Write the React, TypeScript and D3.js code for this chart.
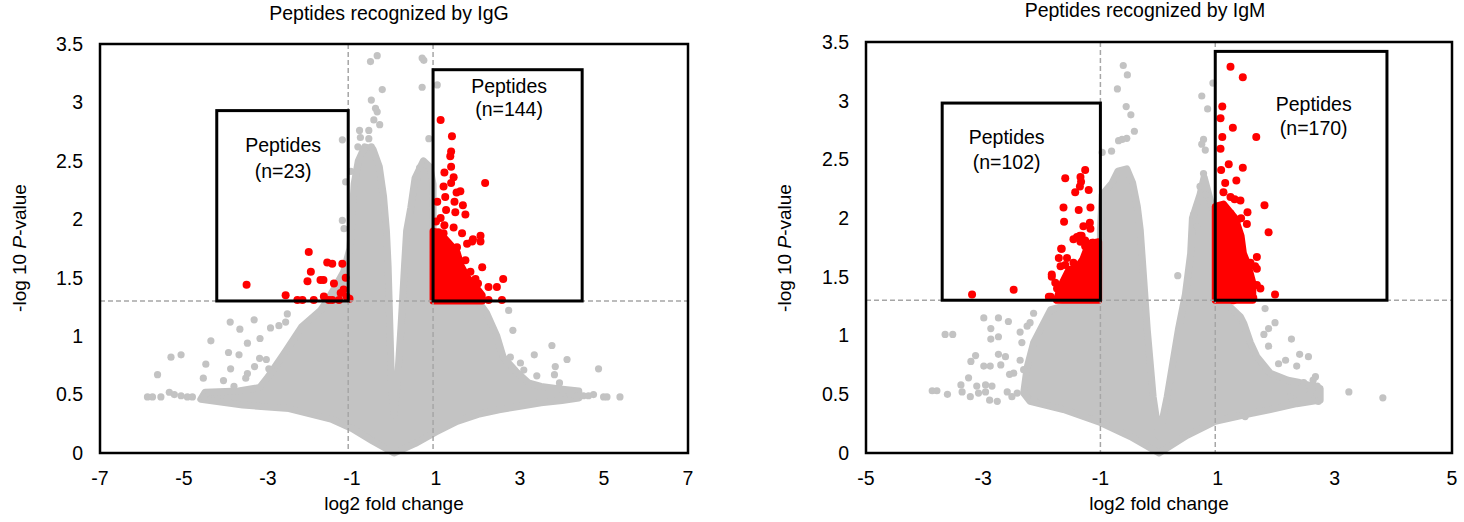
import React from "react";
import * as d3 from "d3";

// ---------- shared ticks ----------
const Y_TICKS = [0, 0.5, 1, 1.5, 2, 2.5, 3, 3.5];
const IGG_X_TICKS = [-7, -5, -3, -1, 1, 3, 5, 7];
const IGM_X_TICKS = [-5, -3, -1, 1, 3, 5];

// ---------- IgG panel data ----------
const IGG_TITLE = "Peptides recognized by IgG";
const IGG_LEFT_LABEL = ["Peptides", "(n=23)"];
const IGG_RIGHT_LABEL = ["Peptides", "(n=144)"];
const IGG_THRESH = { lo: -1.09, hi: 0.93, p: 1.301 };
const IGG_BOX_LEFT = { x0: -4.22, x1: -1.09, top: 2.93 };
const IGG_BOX_RIGHT = { x0: 0.93, x1: 4.48, top: 3.28 };
const IGG_LABEL_POS = { left: [-2.64, 2.63, 2.41], right: [2.74, 3.14, 2.94] };

// dense grey cloud outline (log2FC, -log10 p)
const IGG_CLOUD: [number, number][] = [
  [0, 0], [0.5, 0.08], [1.0, 0.18], [1.5, 0.27], [2.0, 0.33], [2.5, 0.37], [3.0, 0.4], [3.5, 0.43], [4.0, 0.45], [4.4, 0.47],
  [4.4, 0.53], [3.9, 0.55], [3.5, 0.57], [3.2, 0.6], [2.9, 0.7], [2.6, 0.82], [2.45, 1.0], [2.2, 1.2], [2.0, 1.3],
  [0.93, 1.3], [0.93, 2.3], [0.85, 2.45], [0.7, 2.5], [0.5, 2.35], [0.4, 2.1], [0.3, 1.9], [0.25, 1.6], [0.17, 1.1], [0.08, 0.6], [0.0, 0.32],
  [-0.06, 0.6], [-0.1, 1.1], [-0.14, 1.6], [-0.18, 1.9], [-0.25, 2.2], [-0.35, 2.45], [-0.5, 2.6], [-0.7, 2.62], [-0.85, 2.5], [-0.95, 2.3],
  [-1.0, 2.0], [-1.05, 1.75], [-1.2, 1.55], [-1.4, 1.42], [-1.6, 1.3], [-1.75, 1.22], [-2.2, 1.08], [-2.6, 0.86], [-3.0, 0.65], [-3.2, 0.56],
  [-3.7, 0.53], [-4.5, 0.52], [-4.6, 0.46], [-3.6, 0.41], [-2.5, 0.38], [-1.5, 0.29], [-1.0, 0.21], [-0.5, 0.1],
];
const IGG_GREY: [number, number][] = [
  [-5.87, 0.48], [-5.75, 0.48], [-5.55, 0.48], [-5.35, 0.52], [-5.23, 0.5], [-5.07, 0.49], [-4.92, 0.48], [-4.8, 0.48], [-4.52, 0.48],
  [-5.63, 0.67], [-5.31, 0.82], [-5.07, 0.84], [-4.36, 0.96], [-4.48, 0.76], [-4.54, 0.64], [-4.06, 0.62], [-3.89, 0.72], [-3.94, 0.86],
  [-3.69, 0.84], [-3.67, 1.06], [-3.9, 1.12], [-3.33, 1.14], [-3.49, 0.94], [-3.19, 0.98], [-3.2, 0.81], [-3.04, 0.8], [-2.94, 1.07],
  [-2.74, 1.09], [-2.54, 1.19], [-2.58, 1.12], [-3.32, 0.74], [-3.49, 0.68], [-3.53, 0.64], [-3.81, 0.57], [-2.98, 0.72], [-2.78, 0.75],
  [-0.4, 3.4], [-0.56, 3.35], [-0.28, 3.11], [-0.54, 3.02], [-0.44, 2.95], [-0.4, 2.92], [-0.48, 2.85], [-0.34, 2.81], [-0.82, 2.76],
  [-0.6, 2.76], [-0.8, 2.7], [-0.6, 2.69], [-0.86, 2.62], [-0.72, 2.59], [-0.54, 2.62], [-1.23, 2.68], [-1.15, 2.32], [-1.03, 2.41],
  [-1.23, 1.99], [-1.19, 1.92], [0.71, 3.36], [0.67, 3.38], [1.03, 3.15], [0.67, 3.13], [0.83, 2.69], [0.61, 2.44], [0.55, 2.36],
  [0.59, 2.31], [0.79, 2.46],
  [3.76, 0.92], [3.34, 0.84], [4.12, 0.8], [4.87, 0.72], [3.84, 0.74], [3.82, 0.67], [3.94, 0.6], [3.4, 0.66], [2.77, 0.82], [3.01, 0.77],
  [3.09, 0.71], [2.83, 1.05], [2.73, 1.22], [4.99, 0.48], [5.07, 0.48], [5.38, 0.48], [4.51, 0.49], [4.63, 0.49], [4.35, 0.49], [4.75, 0.5],
  [4.2, 0.5],
];
const IGG_RED_BLOB: [number, number][] = [
  [0.93, 1.3], [0.93, 1.9], [1.1, 1.88], [1.3, 1.8], [1.5, 1.72], [1.6, 1.6], [1.75, 1.5], [1.95, 1.42], [2.1, 1.35], [2.1, 1.3],
];
const IGG_RED_DOWN: [number, number][] = [
  [-3.51, 1.44], [-2.58, 1.35], [-2.3, 1.31], [-2.18, 1.31], [-1.91, 1.31], [-2.03, 1.72], [-1.98, 1.55], [-2.06, 1.47], [-1.75, 1.48],
  [-1.68, 1.48], [-1.67, 1.34], [-1.59, 1.63], [-1.47, 1.62], [-1.23, 1.62], [-1.43, 1.45], [-1.27, 1.37], [-1.47, 1.31], [-1.31, 1.31],
  [-1.13, 1.34], [-1.06, 1.32], [-1.55, 1.31], [-1.2, 1.4], [-1.15, 1.5],
];
const IGG_RED_UP: [number, number][] = [
  [1.11, 2.85], [1.38, 2.71], [1.36, 2.58], [1.34, 2.54], [1.36, 2.45], [1.2, 2.4], [1.42, 2.36], [1.36, 2.31], [1.18, 2.28], [2.17, 2.31],
  [1.49, 2.23], [1.58, 2.24], [1.22, 2.19], [1.03, 2.15], [1.64, 2.12], [1.44, 2.15], [1.24, 2.08], [1.46, 2.06], [1.7, 2.04], [1.11, 2.01],
  [1.2, 1.95], [1.42, 1.93], [1.62, 1.88], [1.06, 1.89], [2.06, 1.86], [1.88, 1.83], [2.06, 1.81], [1.86, 1.81], [1.74, 1.79], [1.5, 1.76],
  [1.18, 1.88], [1.82, 1.55], [2.1, 1.59], [1.94, 1.49], [2.6, 1.49], [2.25, 1.42], [2.45, 1.42], [2.25, 1.31], [2.57, 1.31], [2.06, 1.35],
  [1.82, 1.32], [1.0, 1.98], [0.98, 1.75], [1.7, 1.65], [2.0, 1.45],
];

// ---------- IgM panel data ----------
const IGM_TITLE = "Peptides recognized by IgM";
const IGM_LEFT_LABEL = ["Peptides", "(n=102)"];
const IGM_RIGHT_LABEL = ["Peptides", "(n=170)"];
const IGM_THRESH = { lo: -1.0, hi: 0.96, p: 1.301 };
const IGM_BOX_LEFT = { x0: -3.7, x1: -1.0, top: 2.98 };
const IGM_BOX_RIGHT = { x0: 0.96, x1: 3.89, top: 3.42 };
const IGM_LABEL_POS = { left: [-2.6, 2.69, 2.48], right: [2.64, 2.97, 2.77] };

const IGM_CLOUD: [number, number][] = [
  [0, 0], [0.48, 0.15], [0.96, 0.27], [1.5, 0.33], [1.9, 0.37], [2.35, 0.42], [2.75, 0.45],
  [2.75, 0.55], [2.4, 0.6], [2.2, 0.62], [1.9, 0.68], [1.67, 0.82], [1.56, 0.94], [1.45, 1.1], [1.39, 1.16], [1.2, 1.25], [1.0, 1.3],
  [0.96, 1.3], [0.96, 2.0], [0.85, 2.2], [0.77, 2.35], [0.7, 2.2], [0.57, 2.0], [0.54, 1.7], [0.45, 1.35], [0.33, 1.05], [0.14, 0.48], [0.0, 0.14],
  [-0.1, 0.48], [-0.2, 1.05], [-0.32, 1.9], [-0.37, 2.1], [-0.45, 2.3], [-0.55, 2.42], [-0.7, 2.4], [-0.8, 2.3], [-0.97, 2.2], [-1.0, 1.9],
  [-1.0, 1.3], [-1.4, 1.28], [-1.85, 1.22], [-2.14, 0.94], [-2.25, 0.73], [-2.31, 0.51], [-2.2, 0.44], [-1.63, 0.37], [-1.0, 0.26], [-0.49, 0.14],
];
const IGM_GREY: [number, number][] = [
  [-3.87, 0.53], [-3.79, 0.53], [-3.61, 0.5], [-3.65, 1.01], [-3.52, 1.01], [-3.25, 0.64], [-3.21, 0.78], [-3.13, 0.83], [-3.38, 0.58],
  [-3.36, 0.52], [-3.22, 0.48], [-3.11, 0.57], [-3.08, 0.51], [-2.99, 0.74], [-2.88, 0.74], [-2.99, 1.15], [-2.87, 1.06], [-2.74, 1.15],
  [-2.57, 1.12], [-2.87, 0.97], [-2.74, 0.99], [-2.96, 0.58], [-2.85, 0.57], [-2.96, 0.52], [-2.89, 0.45], [-2.76, 0.44], [-2.37, 1.03],
  [-2.34, 0.94], [-2.25, 1.08], [-2.14, 1.19], [-2.2, 1.11], [-2.74, 0.84], [-2.62, 0.82], [-2.7, 0.75], [-2.48, 0.68], [-2.55, 0.67],
  [-2.37, 0.79], [-2.31, 0.71], [-2.14, 0.45], [-1.97, 0.43], [-2.59, 0.52], [-2.51, 0.48], [-2.42, 0.51],
  [1.81, 1.23], [1.98, 1.11], [1.87, 1.06], [1.79, 1.01], [2.26, 0.97], [1.87, 0.91], [2.4, 0.84], [2.55, 0.82], [2.16, 0.79], [2.35, 0.74],
  [2.04, 0.76], [2.67, 0.65], [2.63, 0.62], [2.7, 0.57], [2.47, 0.6], [2.72, 0.44], [2.35, 0.44], [2.24, 0.48], [3.24, 0.52], [3.82, 0.47],
  [1.47, 0.31], [2.58, 0.5], [2.61, 0.54], [0.32, 1.51],
  [-0.61, 3.3], [-0.54, 3.22], [-0.71, 3.1], [-0.56, 2.95], [-0.48, 2.88], [-0.42, 2.74], [-0.55, 2.68], [-0.69, 2.66], [-0.63, 2.67],
  [-0.81, 2.57], [-0.97, 2.56], [0.92, 3.15], [0.73, 3.04], [0.83, 2.93], [0.76, 2.67], [0.73, 2.63], [0.79, 2.58], [0.76, 2.38],
  [0.7, 2.27], [0.79, 2.2], [0.59, 2.03], [0.65, 1.93],
];
const IGM_RED_BLOB_DOWN: [number, number][] = [
  [-1.03, 1.3], [-1.03, 1.8], [-1.2, 1.78], [-1.3, 1.65], [-1.4, 1.58], [-1.55, 1.55], [-1.65, 1.45], [-1.72, 1.35], [-1.75, 1.3],
];
const IGM_RED_BLOB_UP: [number, number][] = [
  [0.96, 1.3], [0.96, 2.1], [1.1, 2.12], [1.3, 2.0], [1.4, 1.85], [1.44, 1.7], [1.52, 1.6], [1.6, 1.45], [1.6, 1.3],
];
const IGM_RED_DOWN: [number, number][] = [
  [-1.26, 2.41], [-1.6, 2.34], [-1.34, 2.35], [-1.33, 2.31], [-1.35, 2.27], [-1.2, 2.24], [-1.43, 2.22], [-1.63, 2.09], [-1.37, 2.07],
  [-1.17, 2.09], [-1.62, 1.97], [-1.18, 1.96], [-1.29, 1.93], [-1.17, 1.91], [-1.4, 1.84], [-1.46, 1.82], [-1.32, 1.85], [-1.34, 1.8],
  [-1.26, 1.76], [-1.2, 1.76], [-1.67, 1.74], [-1.14, 1.79], [-1.66, 1.74], [-1.71, 1.66], [-1.57, 1.66], [-1.46, 1.62], [-1.68, 1.59],
  [-1.83, 1.5], [-1.77, 1.45], [-1.74, 1.4], [-1.85, 1.33], [-1.57, 1.45], [-1.51, 1.46], [-1.43, 1.42], [-1.34, 1.33], [-1.57, 1.33],
  [-3.19, 1.35], [-2.48, 1.39], [-1.88, 1.33], [-1.83, 1.52], [-1.6, 1.6], [-1.51, 1.56], [-1.12, 1.79], [-1.26, 1.81], [-1.35, 1.85],
];
const IGM_RED_UP: [number, number][] = [
  [1.22, 3.29], [1.43, 3.2], [1.08, 2.95], [1.05, 2.85], [1.26, 2.77], [1.66, 2.69], [1.08, 2.69], [1.05, 2.59], [1.19, 2.46], [1.43, 2.43],
  [1.06, 2.41], [1.32, 2.32], [1.13, 2.3], [1.1, 2.22], [1.22, 2.18], [1.29, 2.16], [1.39, 2.15], [1.8, 2.11], [1.51, 2.05], [1.87, 1.88],
  [1.09, 2.1], [1.22, 2.04], [1.33, 1.98], [1.08, 1.93], [1.27, 1.87], [1.1, 1.81], [1.33, 1.79], [1.67, 1.67], [1.56, 1.62], [1.67, 1.57],
  [1.44, 1.53], [1.67, 1.43], [1.73, 1.4], [1.98, 1.35], [1.22, 1.76], [1.3, 1.81], [1.36, 1.7], [1.61, 1.32], [1.44, 1.32], [1.27, 1.3],
  [1.64, 1.59], [1.5, 1.95], [1.4, 2.0],
];

const GREY = "#c3c3c3";
const RED = "#ff0000";
const DASH = "#a6a6a6";
const FONT = "Arial, 'Liberation Sans', sans-serif";

type Pt = [number, number];

interface PanelProps {
  xDomain: [number, number];
  xTicks: number[];
  box: { left: number; right: number; top: number; bottom: number };
  title: string;
  titlePos: [number, number];
  yTitleX: number;
  thresh: { lo: number; hi: number; p: number };
  boxLeft: { x0: number; x1: number; top: number };
  boxRight: { x0: number; x1: number; top: number };
  labelLeft: string[];
  labelRight: string[];
  labelPos: { left: number[]; right: number[] };
  clouds: Pt[][];
  grey: Pt[];
  redBlobs: Pt[][];
  red: Pt[];
}

function Panel(p: PanelProps) {
  const x = d3.scaleLinear().domain(p.xDomain).range([p.box.left, p.box.right]);
  const y = d3.scaleLinear().domain([0, 3.5]).range([p.box.bottom, p.box.top]);
  const line = d3
    .line<Pt>()
    .x((d) => x(d[0]))
    .y((d) => y(d[1]))
    .curve(d3.curveLinearClosed);
  const rect = (b: { x0: number; x1: number; top: number }) => ({
    x: x(b.x0),
    y: y(b.top),
    w: x(b.x1) - x(b.x0),
    h: y(p.thresh.p) - y(b.top),
  });
  const bl = rect(p.boxLeft);
  const br = rect(p.boxRight);
  const cx = (p.box.left + p.box.right) / 2;
  return (
    <g fontFamily={FONT}>
      <text x={p.titlePos[0]} y={p.titlePos[1]} textAnchor="middle" fontSize={19.5} fill="#000">
        {p.title}
      </text>
      {/* grey cloud */}
      {p.clouds.map((c, i) => (
        <path key={"c" + i} d={line(c) || ""} fill={GREY} stroke={GREY} strokeWidth={7} strokeLinejoin="round" />
      ))}
      {p.grey.map((d, i) => (
        <circle key={"g" + i} cx={x(d[0])} cy={y(d[1])} r={3.6} fill={GREY} />
      ))}
      {p.redBlobs.map((c, i) => (
        <path key={"rb" + i} d={line(c) || ""} fill={RED} stroke={RED} strokeWidth={7} strokeLinejoin="round" />
      ))}
      {p.red.map((d, i) => (
        <circle key={"r" + i} cx={x(d[0])} cy={y(d[1])} r={4} fill={RED} />
      ))}
      {/* threshold lines */}
      <line x1={x(p.thresh.lo)} x2={x(p.thresh.lo)} y1={p.box.top} y2={p.box.bottom} stroke={DASH} strokeWidth={1.5} strokeDasharray="5,3" />
      <line x1={x(p.thresh.hi)} x2={x(p.thresh.hi)} y1={p.box.top} y2={p.box.bottom} stroke={DASH} strokeWidth={1.5} strokeDasharray="5,3" />
      <line x1={p.box.left} x2={p.box.right} y1={y(p.thresh.p)} y2={y(p.thresh.p)} stroke={DASH} strokeWidth={1.5} strokeDasharray="5,3" />
      {/* boxes */}
      <rect x={bl.x} y={bl.y} width={bl.w} height={bl.h} fill="none" stroke="#000" strokeWidth={3} />
      <rect x={br.x} y={br.y} width={br.w} height={br.h} fill="none" stroke="#000" strokeWidth={3} />
      {p.labelLeft.map((t, i) => (
        <text key={"ll" + i} x={x(p.labelPos.left[0])} y={y(p.labelPos.left[1 + i])} dy="0.35em" textAnchor="middle" fontSize={19.5}>
          {t}
        </text>
      ))}
      {p.labelRight.map((t, i) => (
        <text key={"lr" + i} x={x(p.labelPos.right[0])} y={y(p.labelPos.right[1 + i])} dy="0.35em" textAnchor="middle" fontSize={19.5}>
          {t}
        </text>
      ))}
      {/* frame */}
      <rect x={p.box.left} y={p.box.top} width={p.box.right - p.box.left} height={p.box.bottom - p.box.top} fill="none" stroke="#000" strokeWidth={2.5} />
      {/* ticks */}
      {Y_TICKS.map((t) => (
        <text key={"yt" + t} x={p.box.left - 17} y={y(t)} dy="0.35em" textAnchor="end" fontSize={19.5}>
          {String(t)}
        </text>
      ))}
      {p.xTicks.map((t) => (
        <text key={"xt" + t} x={x(t)} y={485} textAnchor="middle" fontSize={19.5}>
          {String(t)}
        </text>
      ))}
      <text x={cx} y={510} textAnchor="middle" fontSize={19}>
        log2 fold change
      </text>
      <text transform={`translate(${p.yTitleX},248) rotate(-90)`} textAnchor="middle" fontSize={19}>
        -log 10 <tspan fontStyle="italic">P</tspan>-value
      </text>
    </g>
  );
}

export default function App() {
  return (
    <svg width={1464} height={522} style={{ position: "absolute", left: 0, top: 0, background: "#fff" }}>
      <rect width={1464} height={522} fill="#fff" />
      <Panel
        xDomain={[-7, 7]}
        xTicks={IGG_X_TICKS}
        box={{ left: 100, right: 688, top: 44, bottom: 453 }}
        title={IGG_TITLE}
        titlePos={[389, 20]}
        yTitleX={26}
        thresh={IGG_THRESH}
        boxLeft={IGG_BOX_LEFT}
        boxRight={IGG_BOX_RIGHT}
        labelLeft={IGG_LEFT_LABEL}
        labelRight={IGG_RIGHT_LABEL}
        labelPos={IGG_LABEL_POS}
        clouds={[IGG_CLOUD]}
        grey={IGG_GREY}
        redBlobs={[IGG_RED_BLOB]}
        red={[...IGG_RED_DOWN, ...IGG_RED_UP]}
      />
      <Panel
        xDomain={[-5, 5]}
        xTicks={IGM_X_TICKS}
        box={{ left: 866, right: 1452, top: 42, bottom: 453 }}
        title={IGM_TITLE}
        titlePos={[1145, 17]}
        yTitleX={791}
        thresh={IGM_THRESH}
        boxLeft={IGM_BOX_LEFT}
        boxRight={IGM_BOX_RIGHT}
        labelLeft={IGM_LEFT_LABEL}
        labelRight={IGM_RIGHT_LABEL}
        labelPos={IGM_LABEL_POS}
        clouds={[IGM_CLOUD]}
        grey={IGM_GREY}
        redBlobs={[IGM_RED_BLOB_DOWN, IGM_RED_BLOB_UP]}
        red={[...IGM_RED_DOWN, ...IGM_RED_UP]}
      />
    </svg>
  );
}
